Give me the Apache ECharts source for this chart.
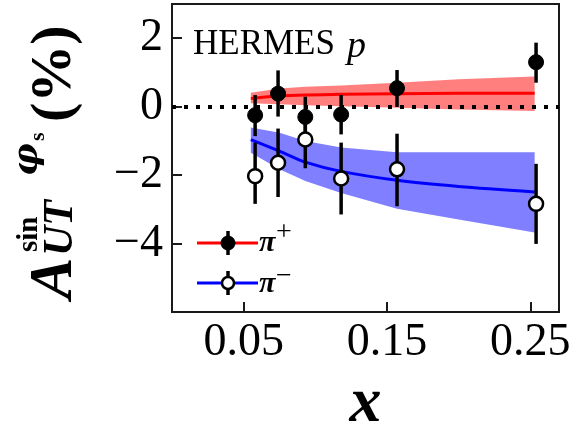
<!DOCTYPE html>
<html><head><meta charset="utf-8">
<script src="https://cdn.jsdelivr.net/npm/echarts@6/dist/echarts.min.js"></script>
<style>html,body{margin:0;padding:0;background:#fff}#c{width:574px;height:426px}</style>
</head><body><div id="c"></div>
<script>
// measured data points
const pointX = [0.058, 0.074, 0.093, 0.118, 0.157, 0.254];
const piPlusY = [-0.25, 0.38, -0.30, -0.23, 0.54, 1.30];
const piPlusLow = [-0.86, -0.29, -0.86, -0.81, -0.01, 0.70];
const piPlusHigh = [0.34, 1.06, 0.29, 0.34, 1.07, 1.87];
const piMinusY = [-2.03, -1.64, -0.96, -2.10, -1.83, -2.84];
const piMinusLow = [-2.84, -2.64, -1.80, -3.15, -2.91, -4.01];
const piMinusHigh = [-1.05, -0.64, -0.32, -1.05, -0.79, -1.67];

// model curves and uncertainty bands
const modelX = [0.055, 0.075, 0.093, 0.118, 0.157, 0.200, 0.253];
const redCentral = [0.24, 0.31, 0.34, 0.36, 0.38, 0.39, 0.39];
const redUpper = [0.41, 0.53, 0.58, 0.62, 0.70, 0.80, 0.88];
const redLower = [0.10, 0.07, 0.04, 0.01, -0.03, -0.08, -0.13];
const blueCentral = [-0.96, -1.30, -1.62, -1.89, -2.15, -2.33, -2.49];
const blueUpper = [-0.61, -0.76, -1.00, -1.19, -1.33, -1.33, -1.33];
const blueLower = [-1.35, -1.83, -2.17, -2.52, -2.98, -3.30, -3.68];

const xTicks = [0.05, 0.15, 0.25];
const yTicks = [-4, -2, 0, 2];

const SERIF = '"Liberation Serif", "DejaVu Serif", serif';
const DSERIF = '"DejaVu Serif", "Liberation Serif", serif';

function bandSeries(lower, upper, color) {
  return {
    type: 'custom', silent: true, z: 1,
    data: modelX.map((x, i) => [x, lower[i], upper[i]]),
    encode: { x: 0, y: [1, 2] },
    renderItem: function (params, api) {
      if (params.dataIndex !== 0) return null;
      const pts = [];
      for (let i = 0; i < modelX.length; i++) pts.push(api.coord([modelX[i], upper[i]]));
      for (let i = modelX.length - 1; i >= 0; i--) pts.push(api.coord([modelX[i], lower[i]]));
      return { type: 'polygon', shape: { points: pts }, style: { fill: color, stroke: null } };
    }
  };
}
function errSeries(low, high) {
  return {
    type: 'custom', silent: true, z: 4,
    data: pointX.map((x, i) => [x, low[i], high[i]]),
    encode: { x: 0, y: [1, 2] },
    renderItem: function (params, api) {
      const a = api.coord([api.value(0), api.value(1)]);
      const b = api.coord([api.value(0), api.value(2)]);
      return { type: 'line', shape: { x1: a[0], y1: a[1], x2: b[0], y2: b[1] },
        style: { stroke: '#000', lineWidth: 3.5 } };
    }
  };
}
function txt(text, x, y, fs, weight, style, extra, family) {
  return Object.assign({
    type: 'text', x: x, y: y, silent: true, z: 100,
    style: { text: text, fontFamily: family || SERIF, fontSize: fs, fontWeight: weight, fontStyle: style,
      fill: '#000', align: 'left', verticalAlign: 'middle' }
  }, extra || {});
}
function rtxt(text, x, y, fs, weight, style, family) {
  return txt(text, x, y, fs, weight, style, { rotation: Math.PI / 2 }, family);
}
const fmtNum = v => (v < 0 ? '\u2212' + Math.abs(v) : String(v));

const chart = echarts.init(document.getElementById('c'), null, { renderer: 'canvas' });
chart.setOption({
  animation: false,
  backgroundColor: '#fff',
  grid: { left: 172, right: 15, top: 4, bottom: 114, containLabel: false, outerBoundsMode: 'none',
    show: true, borderColor: '#1a1a1a', borderWidth: 2, backgroundColor: 'transparent' },
  xAxis: {
    type: 'value', min: 0, max: 0.27,
    axisLine: { show: false, onZero: false },
    splitLine: { show: false },
    axisTick: { show: true, inside: true, length: 10, customValues: xTicks, lineStyle: { color: '#1a1a1a', width: 2 } },
    axisLabel: { customValues: xTicks, formatter: v => v.toFixed(2), fontFamily: SERIF, fontSize: 46, color: '#000', margin: 8 },
    name: 'x', nameLocation: 'middle', nameGap: 60,
    nameTextStyle: { fontFamily: SERIF, fontSize: 64, fontWeight: 'bold', fontStyle: 'italic', color: '#000' }
  },
  yAxis: {
    type: 'value', min: -6, max: 3,
    axisLine: { show: false, onZero: false },
    splitLine: { show: false },
    axisTick: { show: true, inside: true, length: 10, customValues: yTicks, lineStyle: { color: '#1a1a1a', width: 2 } },
    axisLabel: { customValues: yTicks, formatter: fmtNum, fontFamily: SERIF, fontSize: 46, color: '#000', margin: 9 }
  },
  series: [
    bandSeries(redLower, redUpper, 'rgba(255,0,0,0.5)'),
    bandSeries(blueLower, blueUpper, 'rgba(0,0,255,0.5)'),
    {
      type: 'line', name: 'π+ model', z: 3, smooth: 0.3, showSymbol: false, silent: true,
      data: modelX.map((x, i) => [x, redCentral[i]]),
      lineStyle: { color: '#ff0000', width: 3 },
      markLine: {
        silent: true, symbol: ['none', 'none'], label: { show: false },
        lineStyle: { color: '#000', type: [4, 8], width: 4, cap: 'butt' },
        data: [{ yAxis: 0 }]
      }
    },
    {
      type: 'line', name: 'π- model', z: 3, smooth: 0.3, showSymbol: false, silent: true,
      data: modelX.map((x, i) => [x, blueCentral[i]]),
      lineStyle: { color: '#0000ff', width: 3 }
    },
    errSeries(piPlusLow, piPlusHigh),
    errSeries(piMinusLow, piMinusHigh),
    {
      type: 'scatter', name: 'π+', z: 5, symbol: 'circle', symbolSize: 15, silent: true,
      data: pointX.map((x, i) => [x, piPlusY[i]]),
      itemStyle: { color: '#000', borderColor: '#000', borderWidth: 1, opacity: 1 }
    },
    {
      type: 'scatter', name: 'π-', z: 5, symbol: 'circle', symbolSize: 14, silent: true,
      data: pointX.map((x, i) => [x, piMinusY[i]]),
      itemStyle: { color: '#fff', borderColor: '#000', borderWidth: 2.5, opacity: 1 }
    }
  ],
  graphic: [
    // HERMES p
    txt('HERMES', 193, 45, 35, 'normal', 'normal'),
    txt('p', 347, 47, 38, 'normal', 'italic'),
    // legend
    { type: 'line', silent: true, z: 100, shape: { x1: 197, y1: 243, x2: 258, y2: 243 }, style: { stroke: '#ff0000', lineWidth: 3 } },
    { type: 'line', silent: true, z: 100, shape: { x1: 228, y1: 231, x2: 228, y2: 255 }, style: { stroke: '#000', lineWidth: 3.5 } },
    { type: 'circle', silent: true, z: 101, shape: { cx: 228, cy: 243, r: 7 }, style: { fill: '#000', stroke: '#000', lineWidth: 1 } },
    { type: 'line', silent: true, z: 100, shape: { x1: 197, y1: 283, x2: 258, y2: 283 }, style: { stroke: '#0000ff', lineWidth: 3 } },
    { type: 'line', silent: true, z: 100, shape: { x1: 228, y1: 271, x2: 228, y2: 295 }, style: { stroke: '#000', lineWidth: 3.5 } },
    { type: 'circle', silent: true, z: 101, shape: { cx: 228, cy: 283, r: 6 }, style: { fill: '#fff', stroke: '#000', lineWidth: 2.5 } },
    txt('π', 259, 243, 30, 'bold', 'italic'),
    txt('+', 276, 233, 28, 'normal', 'normal'),
    txt('π', 259, 284, 30, 'bold', 'italic'),
    txt('\u2212', 276, 277, 28, 'normal', 'normal'),
    // y axis title (rotated)
    rtxt('A', 55, 299, 62, 'bold', 'italic'),
    rtxt('UT', 61, 256, 42, 'bold', 'italic'),
    rtxt('sin', 30, 252, 29, 'bold', 'normal'),
    rtxt('φ', 28, 176, 36, 'bold', 'italic', DSERIF),
    rtxt('s', 38, 141, 22, 'bold', 'normal'),
    rtxt('(%)', 55, 122, 58, 'bold', 'normal')
  ]
});
</script>
</body></html>
